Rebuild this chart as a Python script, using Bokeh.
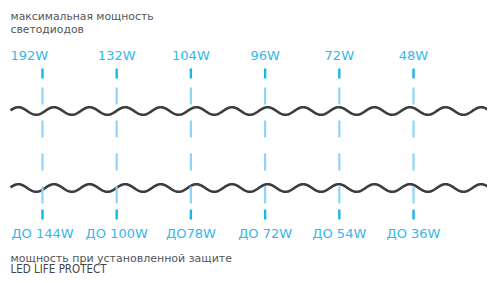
import numpy as np
from bokeh.plotting import figure
from bokeh.models import Range1d, ColumnDataSource
from bokeh.core.properties import value
from bokeh.embed import file_html
from bokeh.resources import INLINE

# data
max_power = ["192W", "132W", "104W", "96W", "72W", "48W"]
protected_power = ["ДО 144W", "ДО 100W", "ДО78W", "ДО 72W", "ДО 54W", "ДО 36W"]
title_top = ["максимальная мощность", "светодиодов"]
title_bottom = ["мощность при установленной защите", "LED LIFE PROTECT"]

W, H = 487, 275
p = figure(width=W, height=H, output_backend="svg", toolbar_location=None,
           x_range=Range1d(0, W), y_range=Range1d(H, 0),
           min_border=0, outline_line_color=None)
p.axis.visible = False
p.grid.visible = False
p.background_fill_color = "white"

# layout (pixel-like coordinates)
x0, step = 42, 74.2
xs = [x0 + step * i for i in range(len(max_power))]

# waves (decorative)
wx = np.linspace(10, 492, 800)
period = 35.6
for yc in (110.5, 187.5):
    wy = yc - 3.8 * np.sin(2 * np.pi * (wx - 9) / period)
    p.line(wx, wy, line_color="#3d3d3d", line_width=2.6)

# long dashed guides
for x in xs:
    p.segment(x0=[x], y0=[87], x1=[x], y1=[203], line_color="#8ad6f5",
              line_width=2.2, line_dash="17 16")
# short strong ticks
p.segment(x0=xs, y0=[68] * 6, x1=xs, y1=[78] * 6, line_color="#1cb3ea", line_width=2.4)
p.segment(x0=xs, y0=[209] * 6, x1=xs, y1=[219] * 6, line_color="#1cb3ea", line_width=2.4)

font = value("DejaVu Sans")
cyan = "#33b8ea"

# top labels
top_x = list(xs)
top_x[0] = 10
aligns = ["left"] + ["center"] * 5
src = ColumnDataSource(dict(x=top_x, y=[55] * 6, t=max_power, a=aligns))
p.text(x="x", y="y", text="t", source=src, text_align="a", text_baseline="middle",
       text_font=font, text_font_size="13px", text_color=cyan)

src2 = ColumnDataSource(dict(x=xs, y=[233] * 6, t=protected_power))
p.text(x="x", y="y", text="t", source=src2, text_align="center", text_baseline="middle",
       text_font=font, text_font_size="13px", text_color=cyan)

p.text(x=[10, 10], y=[15.5, 29.2], text=title_top, text_baseline="middle",
       text_font=font, text_font_size="10.8px", text_color="#555555")
p.text(x=[10], y=[257.5], text=[title_bottom[0]], text_baseline="middle",
       text_font=font, text_font_size="11px", text_color="#555555")
p.text(x=[10], y=[268.5], text=[title_bottom[1]], text_baseline="middle",
       text_font=value("DejaVu Sans Condensed"), text_font_size="11.5px", text_color="#444444")

open("out.html", "w").write(file_html(p, INLINE))
